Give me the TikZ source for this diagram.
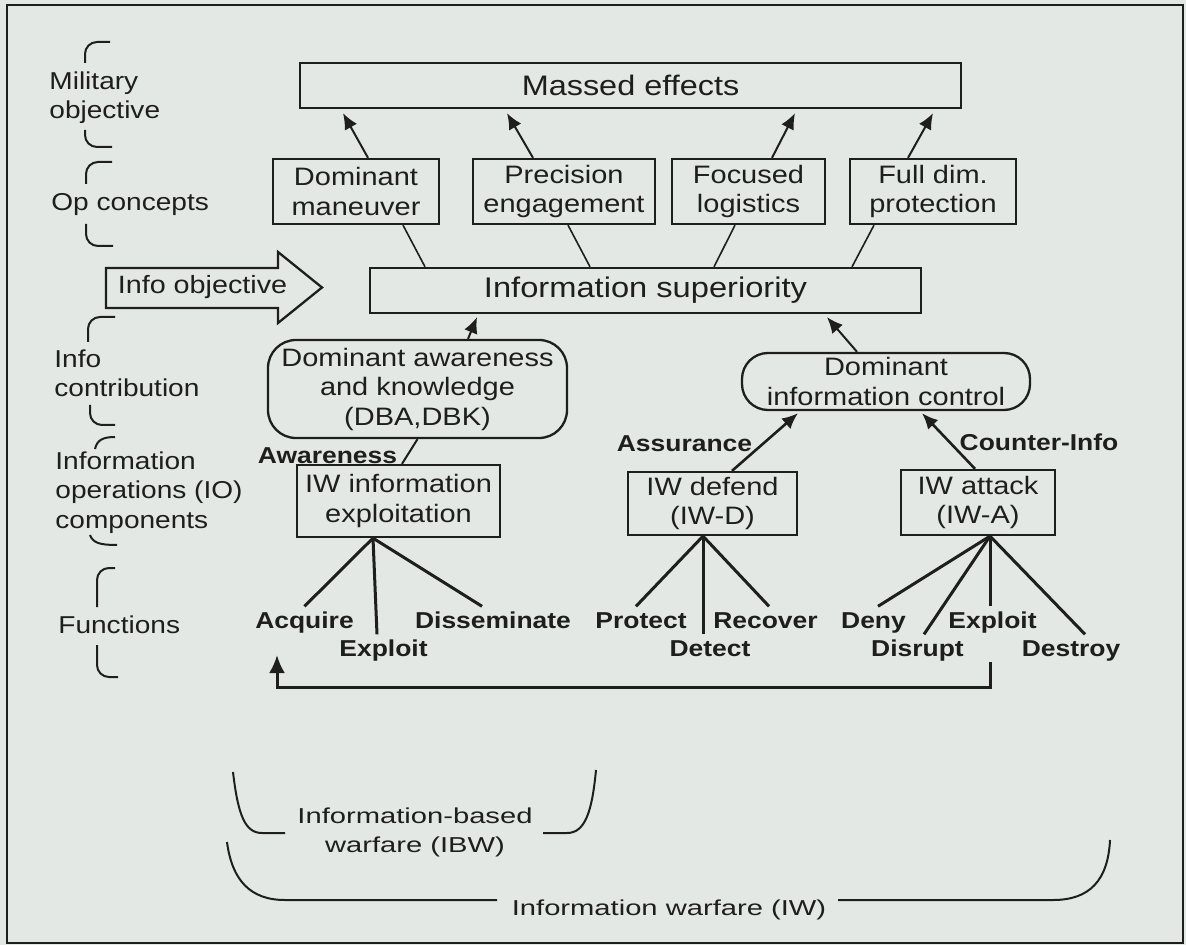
\documentclass[tikz,border=0pt]{standalone}
\usepackage{fontspec}
\setmainfont{Liberation Sans}[FakeStretch=1.15]
\newfontfamily\widefont{Liberation Sans}[FakeStretch=1.35]
\usetikzlibrary{calc,arrows.meta}
\definecolor{bgc}{RGB}{228,232,229}
\definecolor{ink}{RGB}{30,30,30}
\newcommand\myfs[2]{\fontsize{#1pt}{#2pt}\selectfont}
\begin{document}
\begin{tikzpicture}[x=0.5pt,y=-0.5pt,
  box/.style={draw=ink, line width=1.15pt, inner sep=0pt, align=center, text=ink, font=\myfs{12.6}{14.75}},
  bigbox/.style={box, font=\myfs{14.1}{17}},
  pill/.style={box, rounded corners=14pt},
  lab/.style={font=\bfseries\myfs{11.5}{14}, text=ink, inner sep=2.5pt, text height=8.3pt, text depth=0pt},
  sidelab/.style={font=\myfs{12.2}{14.75}, text=ink, align=left, anchor=north west, inner sep=0pt},
  brk/.style={draw=ink, line width=1pt, rounded corners=6pt},
  brace/.style={draw=ink, line width=1pt},
  conn/.style={draw=ink, line width=0.8pt},
  fan/.style={draw=ink, line width=1.5pt},
  arr/.style={draw=ink, line width=1pt, -{Latex[length=8pt,width=7pt]}},
  bottomlab/.style={font=\widefont\myfs{10.8}{14.5}, text=ink, align=center, inner sep=0pt}
]
\useasboundingbox (0,0) rectangle (1186,945);
\fill[bgc] (0,0) rectangle (1186,945);
\draw[ink, line width=1pt] (7,5) rectangle (1183,943);

% ---- boxes
\node[bigbox, minimum width=330.5pt, minimum height=22.5pt] (ME) at (630.5,85.5) {Massed effects};
\node[box, minimum width=83pt, minimum height=32.5pt] (DM) at (356,191.5) {Dominant\\maneuver};
\node[box, minimum width=91pt, minimum height=32.5pt] (PE) at (564,191.5) {Precision\\engagement};
\node[box, minimum width=76.5pt, minimum height=32.5pt] (FL) at (748.5,191.5) {Focused\\logistics};
\node[box, minimum width=83pt, minimum height=32.5pt] (FD) at (933,191.5) {Full dim.\\protection};
\node[bigbox, font=\myfs{14.2}{17}, minimum width=275.5pt, minimum height=22.5pt] (IS) at (645.5,290.5) {Information superiority};
\node[pill, minimum width=149.5pt, minimum height=49pt] (DAK) at (417.5,389) {Dominant awareness\\and knowledge\\(DBA,DBK)};
\node[pill, rounded corners=13pt, minimum width=144pt, minimum height=28.5pt] (DIC) at (886,381.5) {Dominant\\information control};
\node[box, minimum width=101.5pt, minimum height=36pt] (IWIE) at (398.5,501) {IW information\\exploitation};
\node[box, minimum width=84.5pt, minimum height=31.5pt] (IWD) at (712.5,503.5) {IW defend\\(IW-D)};
\node[box, minimum width=77pt, minimum height=32.5pt] (IWA) at (978,502.5) {IW attack\\(IW-A)};

% ---- info objective block arrow
\draw[ink, line width=1.15pt] (106,268) -- (278,268) -- (278,252) -- (322,287.5) -- (278,323) -- (278,308) -- (106,308) -- cycle;
\node[font=\myfs{12.5}{15}, text=ink, anchor=base, inner sep=0pt] (IOBJ) at (202.5,294) {Info objective};

% ---- side labels
\node[sidelab] (Lmil) at (49,71) {Military\\objective};
\node[sidelab] (Lop) at (51,193) {Op concepts};
\node[sidelab] (Lic) at (54,349) {Info\\contribution};
\node[sidelab] (Lio) at (55,451) {Information\\operations (IO)\\components};
\node[sidelab] (Lfn) at (58,615) {Functions};

% ---- side brackets
\draw[brk] (110,42) -- (85,42) -- (85,63);
\draw[brk] (85,130) -- (85,147) -- (112,147);
\draw[brk] (112,162) -- (86,162) -- (86,184);
\draw[brk] (86,224) -- (86,246) -- (113,246);
\draw[brk] (115,317) -- (88,317) -- (88,342);
\draw[brk] (90,405) -- (90,425) -- (115,425);
\draw[brace] (95,449) .. controls (97,440) and (103,437) .. (115,437);
\draw[brace] (90,535) .. controls (93,543) and (100,545) .. (117,545);
\draw[brk] (115,568) -- (97,568) -- (97,607);
\draw[brk] (97,645) -- (97,677) -- (118,677);

% ---- function labels
\node[lab] (Aw) at (327.5,455) {Awareness};
\node[lab] (As) at (684.5,443) {Assurance};
\node[lab] (Ci) at (1039,442) {Counter-Info};
\node[lab] (Acq) at (304.5,620) {Acquire};
\node[lab] (ExA) at (383.5,648) {Exploit};
\node[lab] (Dis) at (493,620) {Disseminate};
\node[lab] (Pro) at (641,620) {Protect};
\node[lab] (Det) at (710,648) {Detect};
\node[lab] (Rec) at (765.5,620) {Recover};
\node[lab] (Den) at (873.5,620) {Deny};
\node[lab] (Dsr) at (917.5,648) {Disrupt};
\node[lab] (ExB) at (992.5,620) {Exploit};
\node[lab] (Dst) at (1071,648) {Destroy};

% ---- arrows to massed effects
\draw[arr] ($(DM.north)+(12,0)$) -- ($(ME.south)+(-287.5,4)$);
\draw[arr] ($(PE.north)+(-31,0)$) -- ($(ME.south)+(-123.5,4)$);
\draw[arr] ($(FL.north)+(23.5,0)$) -- ($(ME.south)+(164.5,4)$);
\draw[arr] ($(FD.north)+(-25,0)$) -- ($(ME.south)+(302.5,4)$);

% ---- lines from information superiority
\draw[conn] ($(DM.south)+(47,0)$) -- ($(IS.north)+(-220.5,0)$);
\draw[conn] ($(PE.south)+(4,0)$) -- ($(IS.north)+(-55.5,0)$);
\draw[conn] ($(FL.south)+(-13.5,0)$) -- ($(IS.north)+(68.5,0)$);
\draw[conn] ($(FD.south)+(-59,0)$) -- ($(IS.north)+(206.5,0)$);

% ---- contributions
\draw[arr] ($(DAK.north)+(50.5,0)$) -- ($(IS.south)+(-168.5,3)$);
\draw[arr] ($(DIC.north)+(-29,0)$) -- ($(IS.south)+(181.5,3)$);
\draw[conn, line width=1pt] ($(IWIE.north)+(3.5,0)$) -- (DAK.south);
\draw[arr, line width=1.3pt] ($(IWD.north)+(19.5,0)$) -- ($(DIC.south)+(-88,2)$);
\draw[arr, line width=1.3pt] ($(IWA.north)+(-3,0)$) -- ($(DIC.south)+(36,2)$);

% ---- fans
\coordinate (F1) at ($(IWIE.south)+(-25.5,0)$);
\coordinate (F2) at ($(IWD.south)+(-9.5,0)$);
\coordinate (F3) at ($(IWA.south)+(12,0)$);
\draw[fan] (F1) -- (Acq.north);
\draw[fan] (F1) -- ($(ExA.north)+(-6.5,0)$);
\draw[fan] (F1) -- ($(Dis.north)+(-11,0)$);
\draw[fan] (F2) -- ($(Pro.north)+(-5,0)$);
\draw[fan] (F2) -- ($(Det.north)+(-7,0)$);
\draw[fan] (F2) -- ($(Rec.north)+(3.5,0)$);
\draw[fan] (F3) -- ($(Den.north)+(4.5,0)$);
\draw[fan] (F3) -- ($(Dsr.north)+(6.5,0)$);
\draw[fan] (F3) -- ($(ExB.north)+(-2.5,0)$);
\draw[fan] (F3) -- ($(Dst.north)+(14,0)$);

% ---- feedback arrow
\coordinate (fbS) at (990,662);
\coordinate (fbC) at (277,687);
\coordinate (fbE) at (277,655);
\draw[ink, line width=1.5pt, -{Latex[length=9pt,width=8pt]}] (fbS) |- (fbC) -- (fbE);

% ---- bottom braces
\node[bottomlab] (IBW) at (415,832) {Information-based\\warfare (IBW)};
\node[bottomlab, anchor=base] (IW) at (669,915) {Information warfare (IW)};
\draw[brace] (233,772) .. controls (238,815) and (245,833) .. (262,833) -- (285,833);
\draw[brace] (596,770) .. controls (592,812) and (585,833) .. (567,833) -- (543,833);
\draw[brace] (227,842) .. controls (232,880) and (250,900) .. (285,900) -- (497,900);
\draw[brace] (838,900) -- (1053,900) .. controls (1090,900) and (1108,880) .. (1110,840);
\end{tikzpicture}
\end{document}
